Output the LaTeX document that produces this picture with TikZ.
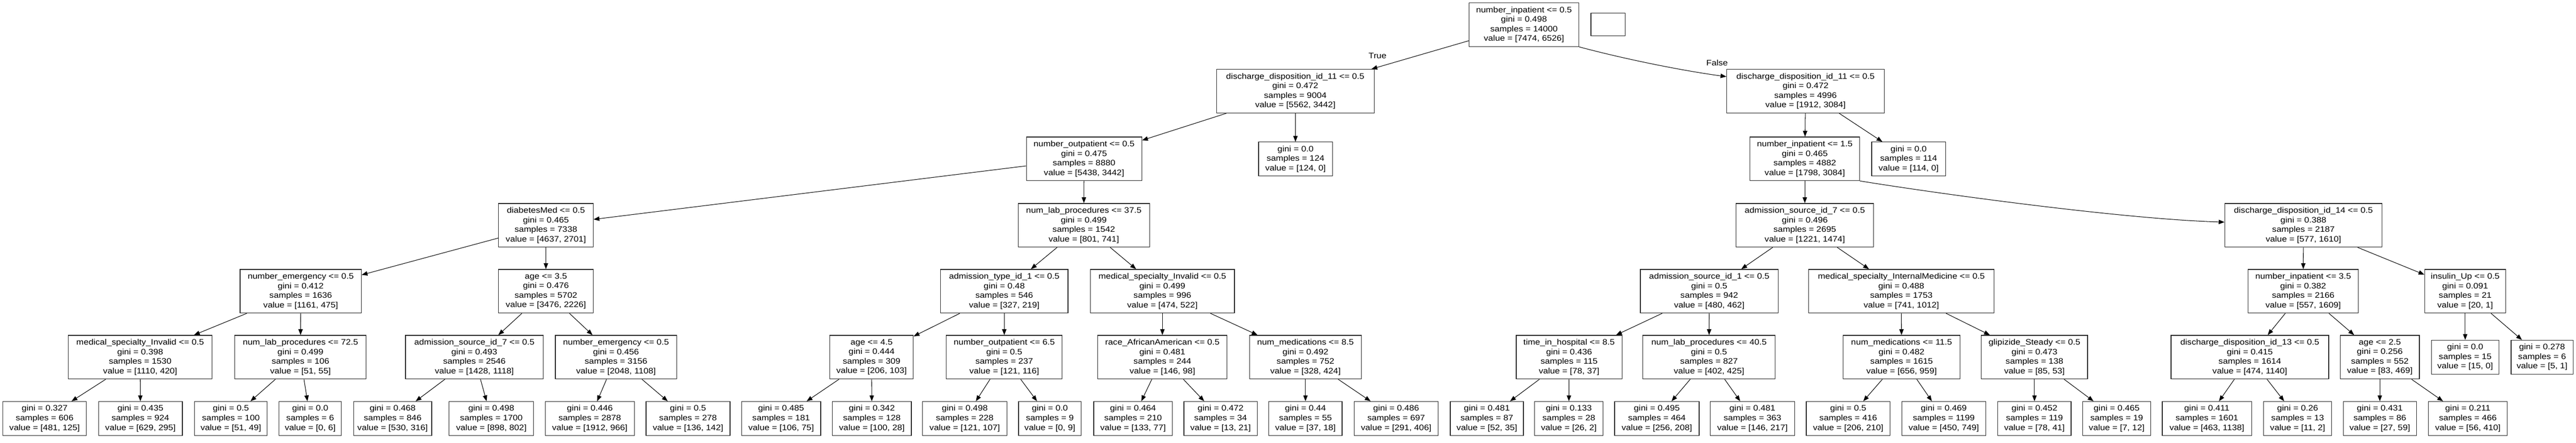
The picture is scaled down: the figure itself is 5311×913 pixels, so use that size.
\documentclass[tikz,border=0pt]{standalone}
\usepackage{fontspec}
\newfontfamily\treefont[FakeStretch=1.11]{Liberation Sans}
\usetikzlibrary{arrows.meta}
\begin{document}
\begin{tikzpicture}[x=1pt,y=-1pt,
  tbox/.style={draw=black!85, line width=1.3pt, rectangle, inner sep=0pt, minimum height=90pt, align=center, font=\treefont\fontsize{16.4pt}{19.7pt}\selectfont},
  tleaf/.style={tbox, minimum height=70pt},
  tedge/.style={line width=1.1pt, -{Triangle[length=12pt,width=9pt]}},
  tlabel/.style={inner sep=0pt, font=\treefont\fontsize{16.4pt}{19.7pt}\selectfont}]
\useasboundingbox (0,0) rectangle (5311,913);
% level 0
\node[tbox,minimum width=226pt] (n0) at (3142,51) {number\_inpatient <= 0.5\\gini = 0.498\\samples = 14000\\value = [7474, 6526]};
\node[tbox,minimum width=71pt,minimum height=47pt] (nblank) at (3315.5,50.5) {};
% level 1
\node[tbox,minimum width=325pt] (n1) at (2670.5,188) {discharge\_disposition\_id\_11 <= 0.5\\gini = 0.472\\samples = 9004\\value = [5562, 3442]};
\node[tbox,minimum width=325pt] (n2) at (3722.5,188) {discharge\_disposition\_id\_11 <= 0.5\\gini = 0.472\\samples = 4996\\value = [1912, 3084]};
\node[tlabel] (ltrue) at (2840,115) {True};
\node[tlabel] (lfalse) at (3540,130) {False};
% level 2
\node[tbox,minimum width=238pt] (n3) at (2235,327.5) {number\_outpatient <= 0.5\\gini = 0.475\\samples = 8880\\value = [5438, 3442]};
\node[tleaf,minimum width=152pt] (n4) at (2671,328) {gini = 0.0\\samples = 124\\value = [124, 0]};
\node[tbox,minimum width=226pt] (n5) at (3721,327.5) {number\_inpatient <= 1.5\\gini = 0.465\\samples = 4882\\value = [1798, 3084]};
\node[tleaf,minimum width=152pt] (n6) at (3935,328) {gini = 0.0\\samples = 114\\value = [114, 0]};
% level 3
\node[tbox,minimum width=195pt] (g) at (1125.5,464.5) {diabetesMed <= 0.5\\gini = 0.465\\samples = 7338\\value = [4637, 2701]};
\node[tbox,minimum width=271pt] (h) at (2234.5,464.5) {num\_lab\_procedures <= 37.5\\gini = 0.499\\samples = 1542\\value = [801, 741]};
\node[tbox,minimum width=284pt] (i) at (3721,464.5) {admission\_source\_id\_7 <= 0.5\\gini = 0.496\\samples = 2695\\value = [1221, 1474]};
\node[tbox,minimum width=324pt] (j) at (4749,464.5) {discharge\_disposition\_id\_14 <= 0.5\\gini = 0.388\\samples = 2187\\value = [577, 1610]};
% level 4
\node[tbox,minimum width=250pt] (k) at (620,600.5) {number\_emergency <= 0.5\\gini = 0.412\\samples = 1636\\value = [1161, 475]};
\node[tbox,minimum width=195pt] (l) at (1125.5,600.5) {age <= 3.5\\gini = 0.476\\samples = 5702\\value = [3476, 2226]};
\node[tbox,minimum width=263pt] (m) at (2070.5,600.5) {admission\_type\_id\_1 <= 0.5\\gini = 0.48\\samples = 546\\value = [327, 219]};
\node[tbox,minimum width=297pt] (n) at (2396.5,600.5) {medical\_specialty\_Invalid <= 0.5\\gini = 0.499\\samples = 996\\value = [474, 522]};
\node[tbox,minimum width=284pt] (o) at (3524,600.5) {admission\_source\_id\_1 <= 0.5\\gini = 0.5\\samples = 942\\value = [480, 462]};
\node[tbox,minimum width=382pt] (p) at (3920,600.5) {medical\_specialty\_InternalMedicine <= 0.5\\gini = 0.488\\samples = 1753\\value = [741, 1012]};
\node[tbox,minimum width=227pt] (q) at (4748.5,600.5) {number\_inpatient <= 3.5\\gini = 0.382\\samples = 2166\\value = [557, 1609]};
\node[tbox,minimum width=167pt] (r) at (5082.5,600.5) {insulin\_Up <= 0.5\\gini = 0.091\\samples = 21\\value = [20, 1]};
% level 5
\node[tbox,minimum width=296pt] (s) at (289,736.5) {medical\_specialty\_Invalid <= 0.5\\gini = 0.398\\samples = 1530\\value = [1110, 420]};
\node[tbox,minimum width=271pt] (t) at (619.5,736.5) {num\_lab\_procedures <= 72.5\\gini = 0.499\\samples = 106\\value = [51, 55]};
\node[tbox,minimum width=284pt] (u) at (978,736.5) {admission\_source\_id\_7 <= 0.5\\gini = 0.493\\samples = 2546\\value = [1428, 1118]};
\node[tbox,minimum width=250pt] (v) at (1270,736.5) {number\_emergency <= 0.5\\gini = 0.456\\samples = 3156\\value = [2048, 1108]};
\node[tbox,minimum width=172pt] (w) at (1797,736.5) {age <= 4.5\\gini = 0.444\\samples = 309\\value = [206, 103]};
\node[tbox,minimum width=239pt] (x) at (2070.5,736.5) {number\_outpatient <= 6.5\\gini = 0.5\\samples = 237\\value = [121, 116]};
\node[tbox,minimum width=267pt] (y) at (2396.5,736.5) {race\_AfricanAmerican <= 0.5\\gini = 0.481\\samples = 244\\value = [146, 98]};
\node[tbox,minimum width=231pt] (z) at (2691.5,736.5) {num\_medications <= 8.5\\gini = 0.492\\samples = 752\\value = [328, 424]};
\node[tbox,minimum width=218pt] (aa) at (3235,736.5) {time\_in\_hospital <= 8.5\\gini = 0.436\\samples = 115\\value = [78, 37]};
\node[tbox,minimum width=273pt] (ab) at (3523.5,736.5) {num\_lab\_procedures <= 40.5\\gini = 0.5\\samples = 827\\value = [402, 425]};
\node[tbox,minimum width=241pt] (ac) at (3920.5,736.5) {num\_medications <= 11.5\\gini = 0.482\\samples = 1615\\value = [656, 959]};
\node[tbox,minimum width=219pt] (ad) at (4194.5,736.5) {glipizide\_Steady <= 0.5\\gini = 0.473\\samples = 138\\value = [85, 53]};
\node[tbox,minimum width=325pt] (ae) at (4638.5,736.5) {discharge\_disposition\_id\_13 <= 0.5\\gini = 0.415\\samples = 1614\\value = [474, 1140]};
\node[tbox,minimum width=163pt] (af) at (4906.5,736.5) {age <= 2.5\\gini = 0.256\\samples = 552\\value = [83, 469]};
\node[tleaf,minimum width=139pt] (ag) at (5082.5,736.5) {gini = 0.0\\samples = 15\\value = [15, 0]};
\node[tleaf,minimum width=128pt] (ah) at (5241,736.5) {gini = 0.278\\samples = 6\\value = [5, 1]};
% level 6 leaves
\node[tleaf,minimum width=172pt] (f1) at (92,863) {gini = 0.327\\samples = 606\\value = [481, 125]};
\node[tleaf,minimum width=173pt] (f2) at (289.5,863) {gini = 0.435\\samples = 924\\value = [629, 295]};
\node[tleaf,minimum width=150pt] (f3) at (476,863) {gini = 0.5\\samples = 100\\value = [51, 49]};
\node[tleaf,minimum width=129pt] (f4) at (639.5,863) {gini = 0.0\\samples = 6\\value = [0, 6]};
\node[tleaf,minimum width=161pt] (f5) at (809.5,863) {gini = 0.468\\samples = 846\\value = [530, 316]};
\node[tleaf,minimum width=174pt] (f6) at (1013,863) {gini = 0.498\\samples = 1700\\value = [898, 802]};
\node[tleaf,minimum width=184pt] (f7) at (1216,863) {gini = 0.446\\samples = 2878\\value = [1912, 966]};
\node[tleaf,minimum width=173pt] (f8) at (1418.5,863) {gini = 0.5\\samples = 278\\value = [136, 142]};
\node[tleaf,minimum width=163pt] (f9) at (1610.5,863) {gini = 0.485\\samples = 181\\value = [106, 75]};
\node[tleaf,minimum width=163pt] (f10) at (1797.5,863) {gini = 0.342\\samples = 128\\value = [100, 28]};
\node[tleaf,minimum width=174pt] (f11) at (1989,863) {gini = 0.498\\samples = 228\\value = [121, 107]};
\node[tleaf,minimum width=129pt] (f12) at (2164.5,863) {gini = 0.0\\samples = 9\\value = [0, 9]};
\node[tleaf,minimum width=162pt] (f13) at (2336,863) {gini = 0.464\\samples = 210\\value = [133, 77]};
\node[tleaf,minimum width=151pt] (f14) at (2516.5,863) {gini = 0.472\\samples = 34\\value = [13, 21]};
\node[tleaf,minimum width=151pt] (f15) at (2691.5,863) {gini = 0.44\\samples = 55\\value = [37, 18]};
\node[tleaf,minimum width=173pt] (f16) at (2878.5,863) {gini = 0.486\\samples = 697\\value = [291, 406]};
\node[tleaf,minimum width=151pt] (f17) at (3065.5,863) {gini = 0.481\\samples = 87\\value = [52, 35]};
\node[tleaf,minimum width=141pt] (f18) at (3234.5,863) {gini = 0.133\\samples = 28\\value = [26, 2]};
\node[tleaf,minimum width=174pt] (f19) at (3416,863) {gini = 0.495\\samples = 464\\value = [256, 208]};
\node[tleaf,minimum width=174pt] (f20) at (3613,863) {gini = 0.481\\samples = 363\\value = [146, 217]};
\node[tleaf,minimum width=173pt] (f21) at (3810.5,863) {gini = 0.5\\samples = 416\\value = [206, 210]};
\node[tleaf,minimum width=173pt] (f22) at (4007.5,863) {gini = 0.469\\samples = 1199\\value = [450, 749]};
\node[tleaf,minimum width=151pt] (f23) at (4194.5,863) {gini = 0.452\\samples = 119\\value = [78, 41]};
\node[tleaf,minimum width=140pt] (f24) at (4364,863) {gini = 0.465\\samples = 19\\value = [7, 12]};
\node[tleaf,minimum width=184pt] (f25) at (4550,863) {gini = 0.411\\samples = 1601\\value = [463, 1138]};
\node[tleaf,minimum width=140pt] (f26) at (4737,863) {gini = 0.26\\samples = 13\\value = [11, 2]};
\node[tleaf,minimum width=151pt] (f27) at (4906.5,863) {gini = 0.431\\samples = 86\\value = [27, 59]};
\node[tleaf,minimum width=162pt] (f28) at (5088,863) {gini = 0.211\\samples = 466\\value = [56, 410]};
% edges
\draw[tedge] (n0) -- (n1);
\draw[tedge] (n0.south east) .. controls (3350,122) and (3470,146) .. ([yshift=30pt]n2.west);
\draw[tedge] (n1) -- (n3);
\draw[tedge] (n1) -- (n4);
\draw[tedge] (n2) -- (n5);
\draw[tedge] (n2) -- (n6);
\draw[tedge] (n3) -- (g);
\draw[tedge] (n3) -- (h);
\draw[tedge] (n5) -- (i);
\draw[tedge] (n5.south east) .. controls (4000,400) and (4380,452) .. ([yshift=6.5pt]j.west);
\draw[tedge] (g) -- (k);
\draw[tedge] (g) -- (l);
\draw[tedge] (h) -- (m);
\draw[tedge] (h) -- (n);
\draw[tedge] (i) -- (o);
\draw[tedge] (i) -- (p);
\draw[tedge] (j) -- (q);
\draw[tedge] (j) -- (r);
\draw[tedge] (k) -- (s);
\draw[tedge] (k) -- (t);
\draw[tedge] (l) -- (u);
\draw[tedge] (l) -- (v);
\draw[tedge] (m) -- (w);
\draw[tedge] (m) -- (x);
\draw[tedge] (n) -- (y);
\draw[tedge] (n) -- (z);
\draw[tedge] (o) -- (aa);
\draw[tedge] (o) -- (ab);
\draw[tedge] (p) -- (ac);
\draw[tedge] (p) -- (ad);
\draw[tedge] (q) -- (ae);
\draw[tedge] (q) -- (af);
\draw[tedge] (r) -- (ag);
\draw[tedge] (r) -- (ah);
\draw[tedge] (s) -- (f1);
\draw[tedge] (s) -- (f2);
\draw[tedge] (t) -- (f3);
\draw[tedge] (t) -- (f4);
\draw[tedge] (u) -- (f5);
\draw[tedge] (u) -- (f6);
\draw[tedge] (v) -- (f7);
\draw[tedge] (v) -- (f8);
\draw[tedge] (w) -- (f9);
\draw[tedge] (w) -- (f10);
\draw[tedge] (x) -- (f11);
\draw[tedge] (x) -- (f12);
\draw[tedge] (y) -- (f13);
\draw[tedge] (y) -- (f14);
\draw[tedge] (z) -- (f15);
\draw[tedge] (z) -- (f16);
\draw[tedge] (aa) -- (f17);
\draw[tedge] (aa) -- (f18);
\draw[tedge] (ab) -- (f19);
\draw[tedge] (ab) -- (f20);
\draw[tedge] (ac) -- (f21);
\draw[tedge] (ac) -- (f22);
\draw[tedge] (ad) -- (f23);
\draw[tedge] (ad) -- (f24);
\draw[tedge] (ae) -- (f25);
\draw[tedge] (ae) -- (f26);
\draw[tedge] (af) -- (f27);
\draw[tedge] (af) -- (f28);
\end{tikzpicture}
\end{document}
